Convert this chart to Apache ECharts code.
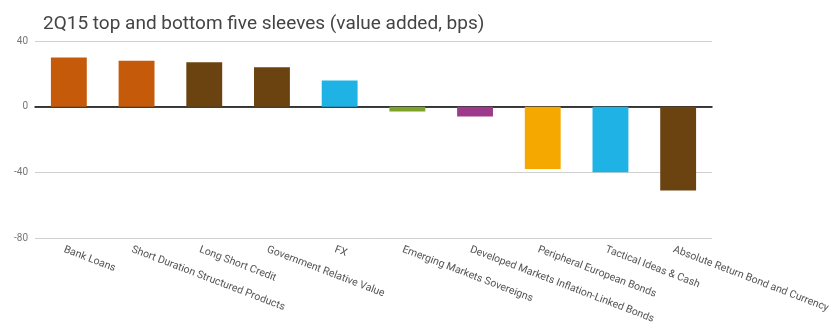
<!DOCTYPE html>
<html><head><meta charset="utf-8">
<script src="https://cdn.jsdelivr.net/npm/echarts@6/dist/echarts.min.js"></script>
<style>html,body{margin:0;padding:0;background:#fff}#c{width:837px;height:327px}</style>
</head><body><div id="c"></div>
<script>
const categories = ["Bank Loans","Short Duration Structured Products","Long Short Credit","Government Relative Value","FX","Emerging Markets Sovereigns","Developed Markets Inflation-Linked Bonds","Peripheral European Bonds","Tactical Ideas & Cash","Absolute Return Bond and Currency"];
const values = [30, 28, 27, 24, 16, -3, -6, -38, -40, -51];
const barColors = ["#C55A0B","#C55A0B","#6B4311","#6B4311","#1FB3E5","#7EA32A","#9E3A8C","#F5A800","#1FB3E5","#6B4311"];
const yTicks = [-80, -40, 0, 40];

const chart = echarts.init(document.getElementById('c'));
chart.setOption({
  animation: false,
  title: {text: "2Q15 top and bottom five sleeves (value added, bps)", left: 38, top: 10,
    textStyle: {fontFamily: "Roboto", fontWeight: "normal", fontSize: 19, color: "#444"}},
  grid: {left: 35, right: 125, top: 41, bottom: 89, outerBoundsMode: "none", containLabel: false},
  xAxis: {type: "category", data: categories,
    axisLine: {onZero: true, lineStyle: {color: "#000", width: 1.5}},
    axisTick: {show: false},
    axisLabel: {interval: 0, rotate: -21, margin: 13, color: "#555", fontSize: 10.5,
      padding: [0, 0, 0, -5],
      fontFamily: "Roboto", align: "left"}},
  yAxis: {type: "value", min: yTicks[0], max: yTicks[yTicks.length-1], interval: 40,
    axisLine: {show: false}, axisTick: {show: false},
    axisLabel: {color: "#777", fontSize: 10, margin: 7, fontFamily: "Roboto"},
    splitLine: {lineStyle: {color: "#d0d0d0", width: 1}}},
  series: [{type: "bar", barWidth: "53%",
    data: values.map((v, i) => ({value: v, itemStyle: {color: barColors[i]}}))}]
});
</script></body></html>
